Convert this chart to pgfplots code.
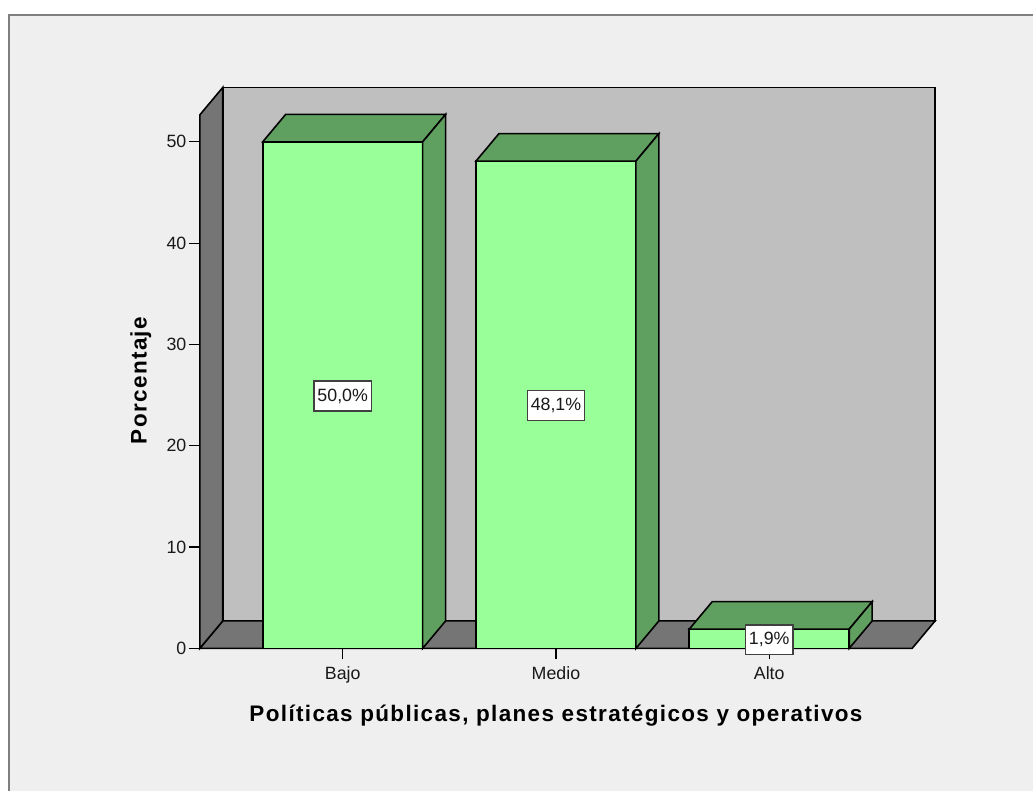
\documentclass[border=0pt]{standalone}
\usepackage{fontspec}
\setmainfont{Liberation Sans}
\newfontfamily\titlefont[LetterSpace=6]{Liberation Sans}
\usepackage{pgfplots}
\pgfplotsset{compat=1.18}
\definecolor{panel}{HTML}{EFEFEF}
\definecolor{framegray}{HTML}{7F7F7F}
\definecolor{wall}{HTML}{BFBFBF}
\definecolor{floorgray}{HTML}{757575}
\definecolor{barfront}{HTML}{99FF99}
\definecolor{bardark}{HTML}{5F9F5F}
\pgfplotsset{
  box3d/.style={fill=#1, draw=black, line width=1.6pt, line join=miter, forget plot},
}
\begin{document}
\begin{tikzpicture}
% page and chart panel
\fill[white] (-200pt,-143pt) rectangle (834pt,649pt);
\fill[panel] (-191pt,-143pt) rectangle (834pt,634pt);
\draw[framegray, line width=2pt] (-191pt,-143pt) -- (-191pt,634pt) -- (834pt,634pt);
\begin{axis}[
  scale only axis,
  width=713pt, height=534pt,
  clip=false,
  xmin=-0.67, xmax=2.67,
  ymin=0, ymax=52.66,
  axis x line*=bottom,
  axis y line*=left,
  axis line style={draw=none},
  xtick={0,1,2},
  xticklabels={Bajo,Medio,Alto},
  ytick={0,10,20,30,40,50},
  tick align=outside,
  major tick length=11pt,
  tick style={black, line width=1.2pt},
  /pgf/number format/assume math mode=true,
  tick label style={font=\fontsize{17.8}{20}\selectfont, text=black!90},
  xticklabel style={yshift=-4pt},
  yticklabel style={xshift=1pt},
  xlabel={Políticas públicas, planes estratégicos y operativos},
  ylabel={Porcentaje},
  label style={font=\titlefont\bfseries\fontsize{22.5}{26}\selectfont, text=black},
  xlabel style={at={(axis description cs:0.5,-0.127)}, anchor=center},
  ylabel style={at={(axis description cs:-0.0828,0.502)}, anchor=center, rotate=0},
]
% back wall, floor and side wall of the chart box
\addplot[box3d=wall] coordinates {(-0.5623,2.712) (2.7777,2.712) (2.7777,55.37) (-0.5623,55.37)} -- cycle;
\addplot[box3d=floorgray] coordinates {(-0.67,0) (2.67,0) (2.7777,2.712) (-0.5623,2.712)} -- cycle;
\addplot[box3d=floorgray] coordinates {(-0.67,0) (-0.5623,2.712) (-0.5623,55.37) (-0.67,52.66)} -- cycle;

% Bajo
\addplot[box3d=barfront] coordinates {(-0.375,0) (0.375,0) (0.375,50.0) (-0.375,50.0)} -- cycle;
\addplot[box3d=bardark] coordinates {(-0.375,50.0) (0.375,50.0) (0.4827,52.712) (-0.2673,52.712)} -- cycle;
\addplot[box3d=bardark] coordinates {(0.375,0) (0.4827,2.712) (0.4827,52.712) (0.375,50.0)} -- cycle;
% Medio
\addplot[box3d=barfront] coordinates {(0.625,0) (1.375,0) (1.375,48.1) (0.625,48.1)} -- cycle;
\addplot[box3d=bardark] coordinates {(0.625,48.1) (1.375,48.1) (1.4827,50.812) (0.7327,50.812)} -- cycle;
\addplot[box3d=bardark] coordinates {(1.375,0) (1.4827,2.712) (1.4827,50.812) (1.375,48.1)} -- cycle;
% Alto
\addplot[box3d=barfront] coordinates {(1.625,0) (2.375,0) (2.375,1.9) (1.625,1.9)} -- cycle;
\addplot[box3d=bardark] coordinates {(1.625,1.9) (2.375,1.9) (2.4827,4.612) (1.7327,4.612)} -- cycle;
\addplot[box3d=bardark] coordinates {(2.375,0) (2.4827,2.712) (2.4827,4.612) (2.375,1.9)} -- cycle;

% value labels at mid-height of each bar
\addplot[
  only marks, mark=none, forget plot,
  point meta=explicit symbolic,
  nodes near coords,
  nodes near coords align={center},
  nodes near coords style={
    font=\fontsize{17.8}{20}\selectfont, text=black!90, fill=white,
    draw=black!75, line width=1.5pt, inner xsep=3.5pt, inner ysep=0pt,
    minimum height=30pt, anchor=center, yshift=-1pt},
] table[meta=label] {
x y label
0 25 {50,0\%}
1 24.05 {48,1\%}
2 0.95 {1,9\%}
};
\end{axis}
\end{tikzpicture}
\end{document}
